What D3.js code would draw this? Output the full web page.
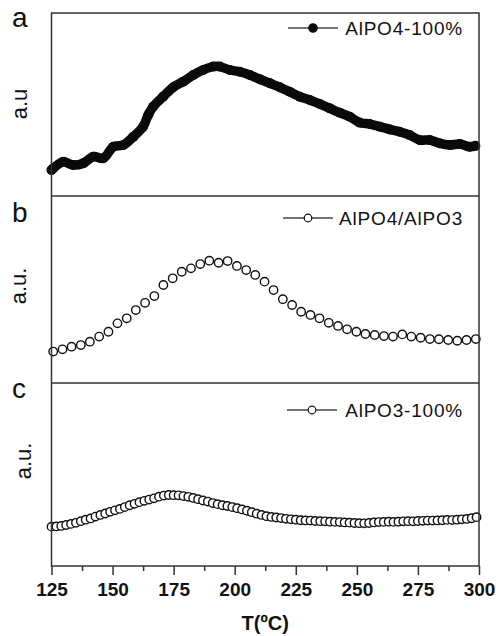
<!DOCTYPE html>
<html>
<head>
<meta charset="utf-8">
<script src="https://cdn.jsdelivr.net/npm/d3@7"></script>
<style>
  body { margin: 0; background: #fff; }
  text { font-family: "Liberation Sans", Arial, sans-serif; fill: #111; }
</style>
</head>
<body>
<div class="tpd-chart"></div>
<script>
// panel a : AlPO4-100% (dense filled markers)
const temps_a = [125.0, 125.7, 129.8, 133.9, 138.0, 142.1, 146.2, 150.3, 154.4, 158.5, 162.5, 164.6, 166.6,
  170.7, 174.8, 178.9, 183.0, 187.1, 191.2, 193.9, 198.0, 202.1, 206.2, 210.3, 214.4, 218.5,
  222.5, 226.6, 230.7, 234.8, 238.9, 243.0, 247.1, 251.2, 255.3, 259.4, 263.5, 267.5, 271.6,
  275.7, 279.8, 283.9, 288.0, 292.1, 296.2, 298.5];
const vals_a = [14.2, 15.1, 18.7, 16.9, 17.9, 21.5, 20.6, 26.9, 27.9, 32.4, 37.9, 44.3, 48.8,
  54.3, 59.4, 62.5, 66.1, 68.9, 70.7, 70.7, 68.9, 67.9, 66.1, 63.8, 61.6, 59.4,
  57.0, 54.3, 52.5, 50.3, 47.9, 45.5, 43.3, 40.1, 39.3, 37.9, 36.4, 35.1, 33.3,
  30.6, 30.6, 28.8, 27.9, 28.4, 26.9, 27.4];

// panel b : AlPO4/AlPO3 (open markers)
const temps_b = [125.7, 129.5, 133.2, 137.0, 140.7, 144.5, 148.3, 152.0, 155.8, 159.5, 163.3, 167.1,
  170.8, 174.6, 178.3, 182.1, 185.9, 189.6, 193.4, 197.1, 200.9, 204.7, 208.4, 212.2, 215.9,
  219.7, 223.5, 227.2, 231.0, 234.7, 238.5, 242.3, 246.0, 249.8, 253.5, 257.3, 261.1, 264.8,
  268.6, 272.3, 276.1, 279.9, 283.6, 287.4, 291.1, 294.9, 298.7];
const vals_b = [16.8, 18.0, 19.4, 20.3, 22.1, 24.8, 27.4, 31.9, 34.6, 39.0, 42.9, 46.5,
  52.4, 56.0, 59.5, 61.3, 63.6, 65.4, 64.3, 65.2, 62.6, 60.4, 57.8, 54.2, 49.7,
  44.8, 41.7, 38.1, 36.4, 34.6, 32.2, 30.5, 28.7, 27.4, 26.2, 25.7, 25.1, 24.8,
  26.0, 24.8, 24.2, 23.5, 23.4, 23.0, 22.6, 23.0, 23.5];

// panel c : AlPO3-100% (very dense open markers)
const temps_c = [125, 127, 129, 131, 133, 135, 137, 139, 141, 143, 145, 147, 149, 151, 153, 155,
  157, 159, 161, 163, 165, 167, 169, 171, 173, 175, 177, 179, 181, 183, 185, 187, 189, 191,
  193, 195, 197, 199, 201, 203, 205, 207, 209, 211, 213, 215, 217, 219, 221, 223, 225, 227,
  229, 231, 233, 235, 237, 239, 241, 243, 245, 247, 249, 251, 253, 255, 257, 259, 261, 263,
  265, 267, 269, 271, 273, 275, 277, 279, 281, 283, 285, 287, 289, 291, 293, 295, 297, 299];
const vals_c = [21.5, 21.6, 21.9, 22.4, 23.0, 23.6, 24.5, 25.3, 26.0, 27.0, 27.9, 28.7, 29.6, 30.4, 31.2, 32.2,
  33.2, 34.0, 34.9, 35.6, 36.3, 37.0, 37.9, 38.5, 38.8, 38.7, 38.6, 38.2, 37.8, 37.2, 36.5, 35.8, 35.2, 34.4,
  33.8, 33.2, 32.8, 32.2, 31.6, 30.9, 30.2, 29.4, 28.6, 27.9, 27.2, 26.8, 26.5, 26.2, 25.8, 25.5, 25.3, 25.0,
  24.9, 24.8, 24.6, 24.5, 24.4, 24.2, 24.1, 24.0, 23.8, 23.7, 23.5, 23.4, 23.3, 23.5, 23.8, 24.0, 24.1, 24.2,
  24.1, 24.2, 24.4, 24.5, 24.4, 24.6, 24.7, 24.8, 24.8, 24.9, 25.0, 25.2, 25.1, 25.3, 25.5, 25.7, 26.1, 26.7];

const xTicks = [125, 150, 175, 200, 225, 250, 275, 300];
const xMinorTicks = [137.5, 162.5, 187.5, 212.5, 237.5, 262.5, 287.5];
const seriesNames = ["AlPO4-100%", "AlPO4/AlPO3", "AlPO3-100%"];
const panelLetters = ["a", "b", "c"];
const yLabels = ["a.u", "a.u.", "a.u."];
const xTitle = "T(ºC)";

const width = 496, height = 636;
const left = 51.5, right = 479;
const tops = [13, 196, 383], bottoms = [196, 383, 566];

const svg = d3.select(".tpd-chart")
              .append("svg")
              .attr("width", width)
              .attr("height", height);

const xScale = d3.scaleLinear().domain([125, 300]).range([left, right]);
const yScales = tops.map((t, i) => d3.scaleLinear().domain([0, 100]).range([bottoms[i], t]));

const series = [
  temps_a.map((t, i) => ({t: t, v: vals_a[i]})),
  temps_b.map((t, i) => ({t: t, v: vals_b[i]})),
  temps_c.map((t, i) => ({t: t, v: vals_c[i]}))
];

// panel a - thick band of filled points
const lineA = d3.line().x(d => xScale(d.t)).y(d => yScales[0](d.v)).curve(d3.curveCatmullRom);
svg.append("path")
   .datum(series[0])
   .attr("d", lineA)
   .attr("fill", "none")
   .attr("stroke", "#0a0a0a")
   .attr("stroke-width", 9.5)
   .attr("stroke-linejoin", "round")
   .attr("stroke-linecap", "round");

svg.selectAll(".dot-a")
   .data(series[0])
   .enter()
   .append("circle")
   .attr("class", "dot-a")
   .attr("cx", d => xScale(d.t))
   .attr("cy", d => yScales[0](d.v))
   .attr("r", 5)
   .attr("fill", "#0a0a0a");

// panel b - open circles
svg.selectAll(".dot-b")
   .data(series[1])
   .enter()
   .append("circle")
   .attr("class", "dot-b")
   .attr("cx", d => xScale(d.t))
   .attr("cy", d => yScales[1](d.v))
   .attr("r", 4.2)
   .attr("fill", "#fff")
   .attr("stroke", "#111")
   .attr("stroke-width", 1.4);

// panel c - overlapping open circles
svg.selectAll(".dot-c")
   .data(series[2])
   .enter()
   .append("circle")
   .attr("class", "dot-c")
   .attr("cx", d => xScale(d.t))
   .attr("cy", d => yScales[2](d.v))
   .attr("r", 4.2)
   .attr("fill", "#fff")
   .attr("stroke", "#111")
   .attr("stroke-width", 1.4);

// frame + dividers
svg.append("rect")
   .attr("x", left).attr("y", tops[0])
   .attr("width", right - left).attr("height", bottoms[2] - tops[0])
   .attr("fill", "none").attr("stroke", "#333").attr("stroke-width", 1.5);

[bottoms[0], bottoms[1]].forEach(y => {
  svg.append("line")
     .attr("x1", left).attr("x2", right)
     .attr("y1", y).attr("y2", y)
     .attr("stroke", "#333").attr("stroke-width", 1.5);
});

// x axis
let xAxis = d3.axisBottom(xScale).tickValues(xTicks).tickSize(9).tickPadding(8);
let xAxisMinor = d3.axisBottom(xScale).tickValues(xMinorTicks).tickSize(5).tickFormat("");

const gx = svg.append("g")
   .attr("class", "axis x-axis")
   .attr("transform", `translate(0, ${bottoms[2]})`)
   .call(xAxis);
gx.select(".domain").remove();
gx.selectAll("line").attr("stroke", "#333").attr("stroke-width", 1.5);
gx.selectAll("text")
  .attr("font-size", 19)
  .attr("font-weight", "bold")
  .attr("fill", "#111")
  .style("font-family", "'Liberation Sans', Arial, sans-serif");

const gxm = svg.append("g")
   .attr("class", "axis x-minor")
   .attr("transform", `translate(0, ${bottoms[2]})`)
   .call(xAxisMinor);
gxm.select(".domain").remove();
gxm.selectAll("line").attr("stroke", "#333").attr("stroke-width", 1.5);

svg.append("text")
   .attr("x", (left + right) / 2)
   .attr("y", 630)
   .attr("text-anchor", "middle")
   .attr("font-size", 20)
   .attr("font-weight", "bold")
   .text(xTitle);

// panel letters, y labels, legends
const letterY = [27, 222, 398];
const yLabelPos = [[27, 104], [26, 286], [31, 461]];
const legendY = [28, 218, 410];
const legendX = [313, 308, 312];

panelLetters.forEach((l, i) => {
  svg.append("text")
     .attr("x", 12).attr("y", letterY[i])
     .attr("font-size", 28)
     .text(l);

  svg.append("text")
     .attr("transform", `translate(${yLabelPos[i][0]}, ${yLabelPos[i][1]}) rotate(-90)`)
     .attr("text-anchor", "middle")
     .attr("font-size", 22)
     .text(yLabels[i]);

  const lx = legendX[i], ly = legendY[i];
  svg.append("line")
     .attr("x1", lx - 25).attr("x2", lx + 25)
     .attr("y1", ly).attr("y2", ly)
     .attr("stroke", "#444").attr("stroke-width", 1.3);
  svg.append("circle")
     .attr("cx", lx).attr("cy", ly)
     .attr("r", i == 0 ? 4.2 : 3.8)
     .attr("fill", i == 0 ? "#0a0a0a" : "#fff")
     .attr("stroke", "#111")
     .attr("stroke-width", 1.2);
  svg.append("text")
     .attr("x", 463).attr("y", ly + 7)
     .attr("text-anchor", "end")
     .attr("font-size", 19)
     .attr("letter-spacing", 0.8)
     .text(seriesNames[i]);
});
</script>
</body>
</html>
